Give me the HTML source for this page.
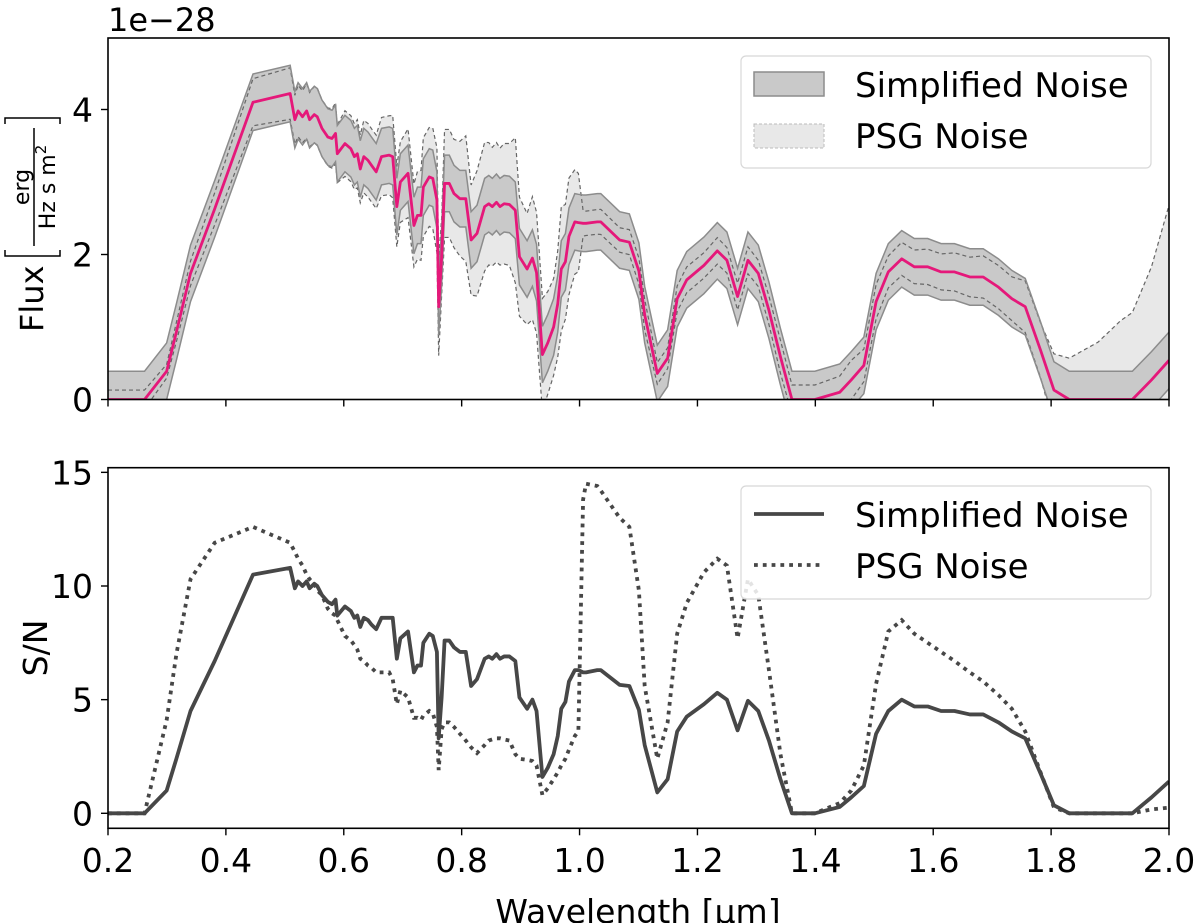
<!DOCTYPE html>
<html><head><meta charset="utf-8"><style>
html,body{margin:0;padding:0;background:#fff;}
svg{display:block;font-family:"DejaVu Sans","Liberation Sans",sans-serif;}
</style></head><body>
<svg id="chart" width="1200" height="923" viewBox="0 0 1200 923" xmlns="http://www.w3.org/2000/svg">
<defs>
<clipPath id="clipTop"><rect x="108" y="38" width="1061" height="362"/></clipPath>
<clipPath id="clipBot"><rect x="108" y="468" width="1061" height="361"/></clipPath>
</defs>
<g id="topPlot"></g>
<g id="botPlot"></g>
<text x="108" y="31" font-size="32" fill="#000">1e−28</text>
<g transform="translate(43,332) rotate(-90)">
<text x="0" y="0" font-size="32" fill="#000">Flux</text>
<path d="M82,-38 L76,-38 L76,17 L82,17 M208,-38 L214,-38 L214,17 L208,17" stroke="#000" stroke-width="1.5" fill="none"/>
<text x="145" y="-14" font-size="22" text-anchor="middle" fill="#000">erg</text>
<line x1="86" y1="-9" x2="204" y2="-9" stroke="#000" stroke-width="1.5"/>
<text x="145" y="12" font-size="22" text-anchor="middle" fill="#000">Hz s m<tspan font-size="15" dy="-9">2</tspan></text>
</g>
<text transform="translate(47,648) rotate(-90)" text-anchor="middle" font-size="33" fill="#000">S/N</text>
<text x="638" y="923" text-anchor="middle" font-size="33" fill="#000">Wavelength [μm]</text>
</svg>
<script>
const wavelength = [0.2,0.262,0.2995,0.316,0.34,0.381,0.446,0.509,0.517,0.5225,0.530,0.537,0.542,0.550,0.555,0.563,0.573,0.580,0.586,0.589,0.602,0.612,0.618,0.623,0.628,0.634,0.641,0.647,0.655,0.664,0.677,0.683,0.690,0.696,0.709,0.719,0.725,0.731,0.735,0.745,0.751,0.758,0.761,0.766,0.771,0.779,0.787,0.797,0.807,0.816,0.826,0.839,0.846,0.852,0.859,0.865,0.872,0.881,0.891,0.898,0.911,0.920,0.927,0.937,0.946,0.956,0.963,0.969,0.976,0.982,0.992,0.998,1.006,1.011,1.030,1.036,1.068,1.0845,1.1007,1.1105,1.1319,1.1494,1.1656,1.1818,1.211,1.2337,1.25,1.2681,1.2857,1.3032,1.3213,1.3408,1.3603,1.3992,1.4414,1.4609,1.4823,1.5031,1.5238,1.5465,1.5679,1.5906,1.6134,1.6361,1.6621,1.6848,1.7107,1.7334,1.7561,1.7821,1.8048,1.8308,1.8794,1.9183,1.9378,1.9703,2.0];
const fluxMean = [0,0,0.39,0.93,1.74,2.63,4.1,4.22,3.86,3.98,3.9,3.98,3.86,3.93,3.9,3.74,3.62,3.6,3.67,3.39,3.53,3.46,3.35,3.39,3.18,3.35,3.3,3.23,3.14,3.35,3.37,3.35,2.66,3.0,3.12,2.4,2.54,2.54,2.93,3.07,3.05,2.75,1.28,1.97,2.98,2.98,2.84,2.77,2.77,2.2,2.29,2.66,2.7,2.66,2.72,2.66,2.7,2.69,2.61,1.97,1.8,1.95,1.75,0.62,0.78,1.0,1.32,1.8,1.9,2.25,2.45,2.44,2.43,2.43,2.45,2.45,2.2,2.17,1.77,1.17,0.36,0.57,1.39,1.65,1.85,2.05,1.92,1.42,1.92,1.74,1.23,0.59,0,0,0.1,0.27,0.47,1.35,1.76,1.94,1.83,1.83,1.76,1.76,1.69,1.69,1.55,1.39,1.28,0.68,0.13,0,0,0,0,0.27,0.54];
const simpleSigma = 0.39;
const psgSigma = [0.13,0.13,0.095,0.133,0.169,0.221,0.325,0.355,0.336,0.355,0.358,0.379,0.375,0.389,0.398,0.39,0.402,0.409,0.422,0.399,0.453,0.455,0.453,0.471,0.468,0.5,0.508,0.505,0.506,0.54,0.544,0.568,0.554,0.556,0.612,0.571,0.605,0.62,0.681,0.682,0.693,0.724,0.674,0.532,0.745,0.745,0.747,0.791,0.866,0.759,0.864,0.887,0.844,0.818,0.824,0.806,0.831,0.841,1.0,0.821,0.766,0.848,0.833,0.775,0.709,0.667,0.733,0.857,0.792,0.804,0.721,0.678,0.176,0.168,0.17,0.173,0.169,0.172,0.181,0.209,0.15,0.143,0.176,0.178,0.175,0.183,0.176,0.184,0.186,0.181,0.195,0.227,0.2,0.2,0.222,0.27,0.224,0.237,0.22,0.228,0.232,0.244,0.248,0.263,0.273,0.291,0.298,0.302,0.356,0.378,0.5,0.57,0.79,1.09,1.2,1.56,2.14];
const snSimple = [0,0,1.0,2.4,4.5,6.7,10.5,10.8,9.9,10.2,10.0,10.2,9.9,10.1,10.0,9.6,9.3,9.2,9.4,8.7,9.1,8.9,8.6,8.7,8.2,8.6,8.5,8.3,8.1,8.6,8.6,8.6,6.8,7.7,8.0,6.2,6.5,6.5,7.5,7.9,7.8,7.1,3.3,5.1,7.6,7.6,7.3,7.1,7.1,5.6,5.9,6.8,6.9,6.8,7.0,6.8,6.9,6.9,6.7,5.1,4.6,5.0,4.5,1.6,2.0,2.6,3.4,4.6,4.9,5.8,6.3,6.3,6.2,6.2,6.3,6.3,5.65,5.6,4.55,3.0,0.92,1.5,3.6,4.25,4.8,5.3,5.0,3.65,4.95,4.5,3.2,1.5,0,0,0.28,0.7,1.2,3.5,4.5,5.0,4.7,4.7,4.5,4.5,4.35,4.35,4.0,3.6,3.3,1.75,0.35,0,0,0,0,0.7,1.4];
const snPSG = [0,0,4.1,7.0,10.3,11.9,12.6,11.9,11.5,11.2,10.9,10.5,10.3,10.1,9.8,9.6,9.0,8.8,8.7,8.5,7.8,7.6,7.4,7.2,6.8,6.7,6.5,6.4,6.2,6.2,6.2,5.9,4.8,5.4,5.1,4.2,4.2,4.1,4.3,4.5,4.4,3.8,1.9,3.7,4.0,4.0,3.8,3.5,3.2,2.9,2.65,3.0,3.2,3.25,3.3,3.3,3.25,3.2,2.6,2.4,2.35,2.3,2.1,0.8,1.1,1.5,1.8,2.1,2.4,2.8,3.4,3.6,13.8,14.5,14.4,14.2,13.0,12.6,9.8,5.6,2.4,4.0,7.9,9.25,10.6,11.2,10.9,7.7,10.3,9.6,6.3,2.6,0,0,0.45,1.0,2.1,5.7,8.0,8.5,7.9,7.5,7.1,6.7,6.2,5.8,5.2,4.6,3.6,1.8,0.26,0,0,0,0,0.17,0.25];
const xTicks = [0.2,0.4,0.6,0.8,1.0,1.2,1.4,1.6,1.8,2.0];
const xTickLabels = ["0.2","0.4","0.6","0.8","1.0","1.2","1.4","1.6","1.8","2.0"];
const fluxTicks = [0,2,4];
const snTicks = [0,5,10,15];

const NS = "http://www.w3.org/2000/svg";
const X0 = 108, X1 = 1169;
function xs(w){ return X0 + (w - 0.2) / 1.8 * (X1 - X0); }
function yTop(f){ return 399.5 - f * 72.5; }
function yBot(s){ return 813.3 - s * 22.73; }
function mk(tag, attrs, parent){
  const e = document.createElementNS(NS, tag);
  for (const k in attrs) e.setAttribute(k, attrs[k]);
  parent.appendChild(e);
  return e;
}
function linePath(xv, yv, yf){
  return xv.map((w,i)=> (i?"L":"M") + xs(w).toFixed(2) + "," + yf(yv[i]).toFixed(2)).join(" ");
}
function bandPath(lo, hi, yf){
  let d = wavelength.map((w,i)=>(i?"L":"M")+xs(w).toFixed(2)+","+yf(hi[i]).toFixed(2)).join(" ");
  for (let i = wavelength.length-1; i >= 0; i--) d += " L"+xs(wavelength[i]).toFixed(2)+","+yf(lo[i]).toFixed(2);
  return d + " Z";
}

const topG = document.getElementById('topPlot');
const botG = document.getElementById('botPlot');

const psgHi = fluxMean.map((f,i)=>f+psgSigma[i]);
const psgLo = fluxMean.map((f,i)=>f-psgSigma[i]);
const simHi = fluxMean.map(f=>f+simpleSigma);
const simLo = fluxMean.map(f=>f-simpleSigma);
const gTop = mk('g', {'clip-path':'url(#clipTop)'}, topG);
const psgBand = mk('path', {d: bandPath(psgLo, psgHi, yTop), fill:'#e8e8e8', stroke:'none'}, gTop);


const simBand = mk('path', {d: bandPath(simLo, simHi, yTop), fill:'#c9c9c9', stroke:'none'}, gTop);


[psgHi, psgLo].forEach(arr=>{
  const p = mk('path', {d: linePath(wavelength, arr, yTop), fill:'none', stroke:'#666', 'stroke-width':'1.2', 'stroke-dasharray':'4,3'}, gTop);
  
  
});
[simHi, simLo].forEach(arr=>{
  const p = mk('path', {d: linePath(wavelength, arr, yTop), fill:'none', stroke:'#8c8c8c', 'stroke-width':'1.5'}, gTop);
  
  
});
const fluxLine = mk('path', {d: linePath(wavelength, fluxMean, yTop), fill:'none', stroke:'#e5187a', 'stroke-width':'2.8', 'stroke-linejoin':'round'}, gTop);



const gBot = mk('g', {'clip-path':'url(#clipBot)'}, botG);
const snS = mk('path', {d: linePath(wavelength, snSimple, yBot), fill:'none', stroke:'#474747', 'stroke-width':'3.8', 'stroke-linejoin':'round'}, gBot);


const snP = mk('path', {d: linePath(wavelength, snPSG, yBot), fill:'none', stroke:'#474747', 'stroke-width':'3.8', 'stroke-dasharray':'3.8,5'}, gBot);



function frame(parent, y0, y1, name){
  const r = mk('rect', {x:X0, y:y0, width:X1-X0, height:y1-y0, fill:'none', stroke:'#000', 'stroke-width':'1.6'}, parent);
  
  
}
frame(topG, 38, 399.5, 'flux-axes-frame');
frame(botG, 467.7, 828.3, 'sn-axes-frame');
xTicks.forEach((w,i)=>{
  const t1 = mk('line', {x1:xs(w), x2:xs(w), y1:399.5, y2:406.5, stroke:'#000', 'stroke-width':'1.4'}, topG);
  
  
  const t2 = mk('line', {x1:xs(w), x2:xs(w), y1:828.3, y2:835.3, stroke:'#000', 'stroke-width':'1.4'}, botG);
  
  
  const lb = mk('text', {x:xs(w), y:872, 'text-anchor':'middle', 'font-size':'33', fill:'#000'}, botG);
  lb.textContent = xTickLabels[i];
  
  
});
fluxTicks.forEach(v=>{
  const t = mk('line', {x1:101, x2:X0, y1:yTop(v), y2:yTop(v), stroke:'#000', 'stroke-width':'1.4'}, topG);
  
  
  const lb = mk('text', {x:93, y:yTop(v)+12, 'text-anchor':'end', 'font-size':'33', fill:'#000'}, topG);
  lb.textContent = String(v);
  
  
});
snTicks.forEach(v=>{
  const t = mk('line', {x1:101, x2:X0, y1:yBot(v), y2:yBot(v), stroke:'#000', 'stroke-width':'1.4'}, botG);
  
  
  const lb = mk('text', {x:93, y:yBot(v)+12, 'text-anchor':'end', 'font-size':'33', fill:'#000'}, botG);
  lb.textContent = String(v);
  
  
});

const lg1 = mk('g', {}, topG);


mk('rect', {x:741, y:56, width:410, height:112, rx:5, fill:'#fff', 'fill-opacity':'0.85', stroke:'#d8d8d8', 'stroke-width':'1.2'}, lg1);
const p1 = mk('rect', {x:754, y:72, width:70, height:24, fill:'#c9c9c9', stroke:'#8c8c8c', 'stroke-width':'1.5'}, lg1);


const p2 = mk('rect', {x:754, y:124, width:70, height:24, fill:'#e8e8e8', stroke:'#bbb', 'stroke-width':'1', 'stroke-dasharray':'3,2'}, lg1);


const l1 = mk('text', {x:855, y:97, 'font-size':'34', fill:'#000'}, lg1); l1.textContent = 'Simplified Noise';


const l2 = mk('text', {x:855, y:148, 'font-size':'34', fill:'#000'}, lg1); l2.textContent = 'PSG Noise';



const lg2 = mk('g', {}, botG);


mk('rect', {x:741, y:486, width:410, height:113, rx:5, fill:'#fff', 'fill-opacity':'0.85', stroke:'#d8d8d8', 'stroke-width':'1.2'}, lg2);
const s1 = mk('line', {x1:754, x2:824, y1:514, y2:514, stroke:'#474747', 'stroke-width':'3.8'}, lg2);


const s2 = mk('line', {x1:754, x2:824, y1:565, y2:565, stroke:'#474747', 'stroke-width':'3.8', 'stroke-dasharray':'3.8,5'}, lg2);


const l3 = mk('text', {x:855, y:527, 'font-size':'34', fill:'#000'}, lg2); l3.textContent = 'Simplified Noise';


const l4 = mk('text', {x:855, y:578, 'font-size':'34', fill:'#000'}, lg2); l4.textContent = 'PSG Noise';


</script>
</body></html>
